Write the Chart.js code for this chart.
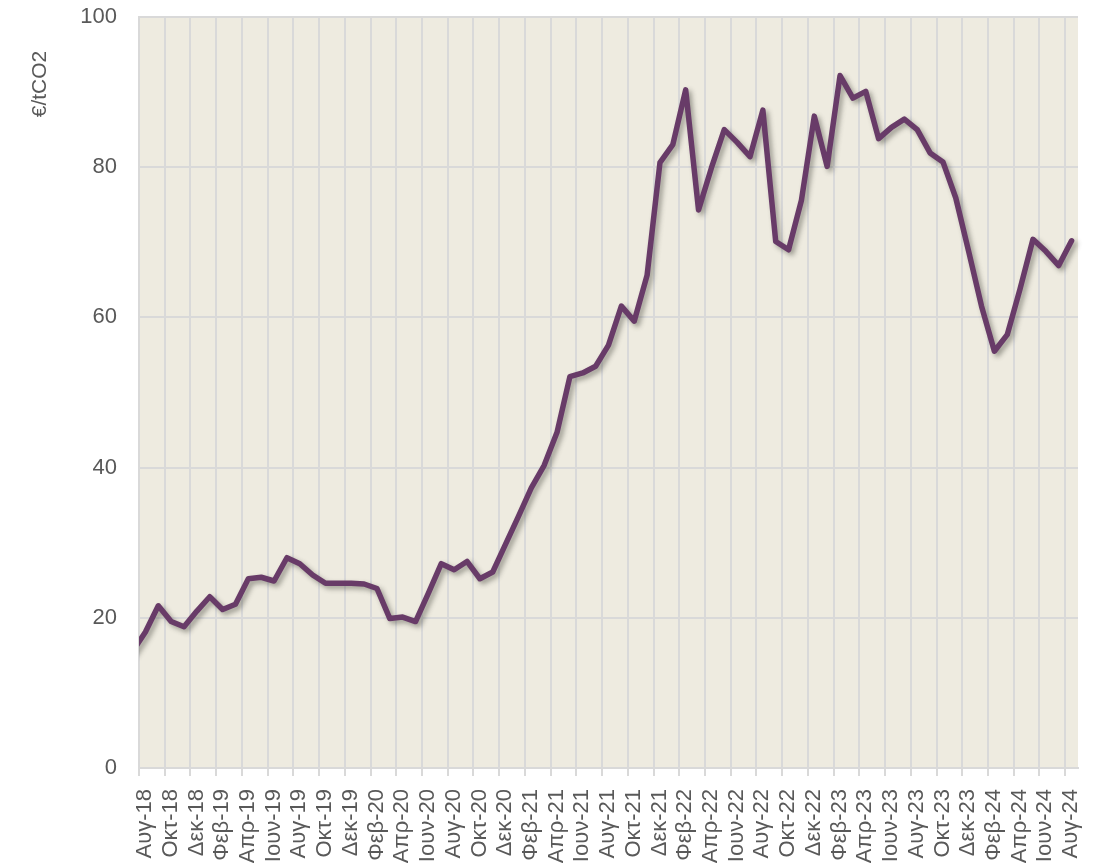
<!DOCTYPE html>
<html>
<head>
<meta charset="utf-8">
<script src="https://cdn.jsdelivr.net/npm/chart.js@4.4.1/dist/chart.umd.min.js"></script>
<style>
  body { margin:0; background:#fff; }
  #wrap { width:1099px; height:863px; position:relative; }
</style>
</head>
<body>
<div id="wrap"><canvas id="chart"></canvas></div>
<script>
// μηνιαίες τιμές (Ιουλ-18 .. Αυγ-24), η πρώτη κόβεται από την αρχή του άξονα
const months = [
  'Ιουλ-18','Αυγ-18','Σεπ-18','Οκτ-18','Νοε-18','Δεκ-18',
  'Ιαν-19','Φεβ-19','Μαρ-19','Απρ-19','Μαι-19','Ιουν-19','Ιουλ-19','Αυγ-19','Σεπ-19','Οκτ-19','Νοε-19','Δεκ-19',
  'Ιαν-20','Φεβ-20','Μαρ-20','Απρ-20','Μαι-20','Ιουν-20','Ιουλ-20','Αυγ-20','Σεπ-20','Οκτ-20','Νοε-20','Δεκ-20',
  'Ιαν-21','Φεβ-21','Μαρ-21','Απρ-21','Μαι-21','Ιουν-21','Ιουλ-21','Αυγ-21','Σεπ-21','Οκτ-21','Νοε-21','Δεκ-21',
  'Ιαν-22','Φεβ-22','Μαρ-22','Απρ-22','Μαι-22','Ιουν-22','Ιουλ-22','Αυγ-22','Σεπ-22','Οκτ-22','Νοε-22','Δεκ-22',
  'Ιαν-23','Φεβ-23','Μαρ-23','Απρ-23','Μαι-23','Ιουν-23','Ιουλ-23','Αυγ-23','Σεπ-23','Οκτ-23','Νοε-23','Δεκ-23',
  'Ιαν-24','Φεβ-24','Μαρ-24','Απρ-24','Μαι-24','Ιουν-24','Ιουλ-24','Αυγ-24'
];
const prices = [
  15.5, 18.1, 21.6, 19.5, 18.8, 20.9,
  22.8, 21.1, 21.8, 25.2, 25.4, 24.9, 28.0, 27.2, 25.7, 24.6, 24.6, 24.6,
  24.5, 23.9, 19.9, 20.1, 19.5, 23.3, 27.2, 26.4, 27.5, 25.2, 26.1, 29.8,
  33.5, 37.3, 40.3, 44.7, 52.1, 52.6, 53.5, 56.3, 61.5, 59.5, 65.6, 80.6,
  83.0, 90.3, 74.3, 79.9, 85.0, 83.3, 81.4, 87.6, 70.1, 69.0, 75.6, 86.8,
  80.1, 92.2, 89.2, 90.1, 83.8, 85.3, 86.4, 85.0, 81.9, 80.7, 75.9, 68.8,
  61.5, 55.5, 57.7, 63.8, 70.4, 68.8, 66.9, 70.2
];
// ετικέτες άξονα x (κάθε 2 μήνες)
const tickLabels = [
  'Αυγ-18','Οκτ-18','Δεκ-18','Φεβ-19','Απρ-19','Ιουν-19','Αυγ-19','Οκτ-19','Δεκ-19',
  'Φεβ-20','Απρ-20','Ιουν-20','Αυγ-20','Οκτ-20','Δεκ-20','Φεβ-21','Απρ-21','Ιουν-21',
  'Αυγ-21','Οκτ-21','Δεκ-21','Φεβ-22','Απρ-22','Ιουν-22','Αυγ-22','Οκτ-22','Δεκ-22',
  'Φεβ-23','Απρ-23','Ιουν-23','Αυγ-23','Οκτ-23','Δεκ-23','Φεβ-24','Απρ-24','Ιουν-24','Αυγ-24'
];
const yTicks = [0, 20, 40, 60, 80, 100];
const yTitle = '€/tCO2';

const textColor = '#595959';
const gridColor = '#D9D9D9';
const fontFam = '"Liberation Sans", Arial, sans-serif';

// σημεία στη μέση κάθε μήνα (Αυγ-18 = 0.5)
const points = prices.map((v, i) => ({ x: i - 0.5, y: v }));

const plotBg = {
  id: 'plotBg',
  beforeDraw(chart){
    const a = chart.chartArea, ctx = chart.ctx;
    ctx.save();
    ctx.fillStyle = '#EEEBE0';
    ctx.fillRect(a.left, a.top, a.right - a.left, a.bottom - a.top);
    ctx.restore();
  }
};

const lineShadow = {
  id: 'lineShadow',
  beforeDatasetsDraw(chart){
    const ctx = chart.ctx;
    ctx.save();
    ctx.shadowColor = 'rgba(60,60,50,0.45)';
    ctx.shadowBlur = 5;
    ctx.shadowOffsetX = 3;
    ctx.shadowOffsetY = 3;
  },
  afterDatasetsDraw(chart){
    chart.ctx.restore();
  }
};

const yTitlePlugin = {
  id: 'yTitlePlugin',
  afterDraw(chart){
    const ctx = chart.ctx;
    ctx.save();
    ctx.translate(40, 84);
    ctx.rotate(-Math.PI / 2);
    ctx.font = '21px ' + fontFam;
    ctx.fillStyle = textColor;
    ctx.textAlign = 'center';
    ctx.textBaseline = 'middle';
    ctx.fillText(yTitle, 0, 0);
    ctx.restore();
  }
};

new Chart(document.getElementById('chart'), {
  type: 'line',
  data: {
    datasets: [{
      data: points,
      borderColor: '#683B68',
      borderWidth: 5.5,
      pointRadius: 0,
      tension: 0,
      borderJoinStyle: 'round',
      borderCapStyle: 'round',
      clip: { left: 0, top: 6, right: 6, bottom: 6 }
    }]
  },
  options: {
    responsive: true,
    maintainAspectRatio: false,
    animation: false,
    layout: { padding: { top: 17, right: 21, left: 0, bottom: 0 } },
    plugins: { legend: { display: false }, tooltip: { enabled: false } },
    scales: {
      x: {
        type: 'linear',
        min: 0,
        max: 73,
        afterBuildTicks(scale){
          scale.ticks = tickLabels.map((t, i) => ({ value: i * 2 }));
        },
        afterFit(scale){
          scale.height = 95;
          scale.paddingLeft = 0;
          scale.paddingRight = 0;
        },
        grid: { color: gridColor, lineWidth: 2, tickLength: 8, tickColor: gridColor },
        border: { color: gridColor, width: 2 },
        ticks: {
          autoSkip: false,
          maxRotation: 90,
          minRotation: 90,
          labelOffset: 6,
          padding: 13,
          color: textColor,
          font: { family: fontFam, size: 22 },
          callback: (v) => tickLabels[Math.round(v / 2)]
        }
      },
      y: {
        min: 0,
        max: 100,
        afterBuildTicks(scale){
          scale.ticks = yTicks.map(v => ({ value: v }));
        },
        afterFit(scale){
          scale.width = 139;
          scale.paddingTop = 0;
          scale.paddingBottom = 0;
        },
        grid: { color: gridColor, lineWidth: 2, drawTicks: false },
        border: { color: gridColor, width: 2 },
        ticks: {
          padding: 22,
          color: textColor,
          font: { family: fontFam, size: 22 }
        }
      }
    }
  },
  plugins: [plotBg, lineShadow, yTitlePlugin]
});
</script>
</body>
</html>
